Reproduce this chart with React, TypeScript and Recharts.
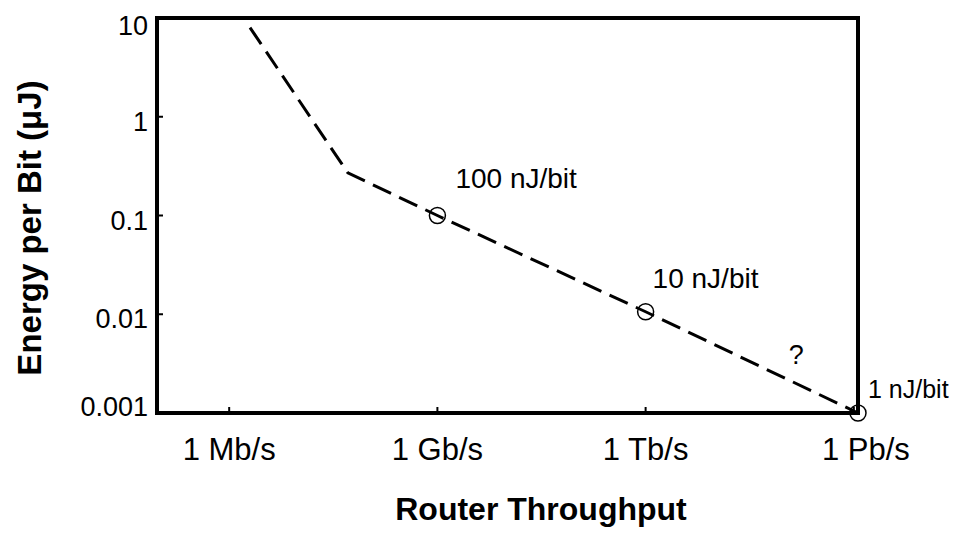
import {
  ComposedChart,
  Line,
  XAxis,
  YAxis,
  ReferenceArea,
  ReferenceDot,
  LabelList,
} from 'recharts';

// throughput as log10(bits/s), energy per bit in µJ
const throughputExp = [6.3, 7.71, 9, 12, 15.06];
const energyUJ = [8, 0.27, 0.1, 0.0106, 0.001];
const pointLabels = ['', '', '100 nJ/bit', '10 nJ/bit', '1 nJ/bit'];

const xTicks = [6, 9, 12, 15];
const xTickLabels = ['1 Mb/s', '1 Gb/s', '1 Tb/s', '1 Pb/s'];
const yTicks = [0.001, 0.01, 0.1, 1, 10];

// the "?" note on the extrapolated segment
const questionPoint = { x: 14.17, y: 0.0039 };

const X_DOMAIN: [number, number] = [4.96, 15.06];
const Y_DOMAIN: [number, number] = [0.001, 10];

const data = throughputExp.map((x, i) => ({
  x,
  energy: energyUJ[i],
  label: pointLabels[i],
}));

// label placement from each marker: dx, dy to baseline, font size
const labelStyles: [number, number, number][] = [
  [0, 0, 28],
  [0, 0, 28],
  [18, -28, 28],
  [7, -24, 28],
  [10, -15, 25],
];

const FONT = '"Liberation Sans", Arial, Helvetica, sans-serif';

function XTick(props: any) {
  const { x, y, payload, index } = props;
  const shift = payload.value === 15 ? 12 : 0;
  return (
    <text
      x={x + shift}
      y={y}
      textAnchor="middle"
      fontSize={31}
      fill="#000"
      fontFamily={FONT}
    >
      {xTickLabels[index] ?? ''}
    </text>
  );
}

function YTick(props: any) {
  const { x, y, payload } = props;
  // first and last labels sit inside the frame ends
  const shift = payload.value === 10 ? 8 : payload.value === 0.001 ? -6 : 5;
  return (
    <text
      x={x}
      y={y + shift}
      textAnchor="end"
      dominantBaseline="central"
      fontSize={27}
      fill="#000"
      fontFamily={FONT}
    >
      {String(payload.value)}
    </text>
  );
}

function renderPointLabel(props: any) {
  const { x, y, value, index } = props;
  if (!value) return null;
  const [dx, dy, size] = labelStyles[index] ?? [0, 0, 28];
  return (
    <text
      x={x + dx}
      y={y + dy}
      textAnchor="start"
      fontSize={size}
      fill="#000"
      fontFamily={FONT}
    >
      {value}
    </text>
  );
}

function renderDot(props: any) {
  const { cx, cy, payload, index } = props;
  if (!payload.label) return <g key={`dot-${index}`} />;
  return (
    <circle
      key={`dot-${index}`}
      cx={cx}
      cy={cy}
      r={8}
      fill="none"
      stroke="#000"
      strokeWidth={1.5}
    />
  );
}

export default function App() {
  return (
    <div
      style={{
        position: 'absolute',
        left: 0,
        top: 0,
        width: 956,
        height: 534,
        background: '#fff',
        fontFamily: FONT,
      }}
    >
      <ComposedChart
        width={956}
        height={534}
        data={data}
        margin={{ top: 18, right: 98, left: 0, bottom: 0 }}
      >
        <XAxis
          dataKey="x"
          type="number"
          domain={X_DOMAIN}
          ticks={xTicks}
          height={121}
          axisLine={false}
          tickLine={{ stroke: '#000', strokeWidth: 2 }}
          tickSize={-6}
          tickMargin={53}
          tick={<XTick />}
          interval={0}
          label={{
            content: () => (
              <text
                x={541}
                y={520}
                textAnchor="middle"
                fontSize={32}
                fontWeight="bold"
                fill="#000"
                fontFamily={FONT}
              >
                Router Throughput
              </text>
            ),
          }}
        />
        <YAxis
          type="number"
          scale="log"
          domain={Y_DOMAIN}
          ticks={yTicks}
          width={157}
          axisLine={false}
          tickLine={{ stroke: '#000', strokeWidth: 2 }}
          tickSize={-6}
          tickMargin={15}
          tick={<YTick />}
          interval={0}
          label={{
            content: () => (
              <text
                x={29}
                y={228}
                transform="rotate(-90, 29, 228)"
                textAnchor="middle"
                dominantBaseline="central"
                fontSize={33}
                fontWeight="bold"
                fill="#000"
                fontFamily={FONT}
              >
                Energy per Bit (μJ)
              </text>
            ),
          }}
        />
        <ReferenceArea
          x1={X_DOMAIN[0]}
          x2={X_DOMAIN[1]}
          y1={Y_DOMAIN[0]}
          y2={Y_DOMAIN[1]}
          fill="none"
          fillOpacity={0}
          stroke="#000"
          strokeWidth={4}
          ifOverflow="visible"
        />
        <ReferenceDot
          x={questionPoint.x}
          y={questionPoint.y}
          r={0}
          fill="none"
          stroke="none"
          ifOverflow="visible"
          label={{ value: '?', position: 'center', fontSize: 27, fill: '#000' }}
        />
        <Line
          dataKey="energy"
          type="linear"
          stroke="#000"
          strokeWidth={3}
          strokeDasharray="20 9"
          dot={renderDot}
          activeDot={false}
          isAnimationActive={false}
        >
          <LabelList dataKey="label" content={renderPointLabel} />
        </Line>
      </ComposedChart>
    </div>
  );
}
